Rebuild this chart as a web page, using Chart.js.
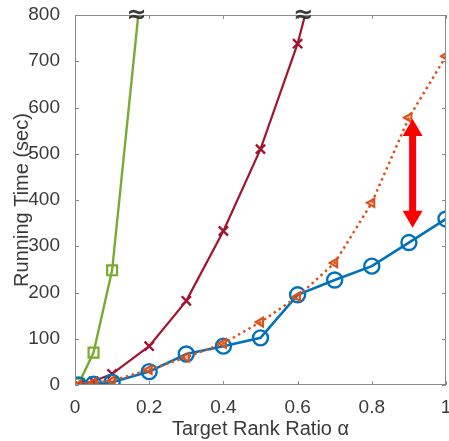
<!DOCTYPE html>
<html>
<head>
<meta charset="utf-8">
<title>Running Time vs Target Rank Ratio</title>
<script src="https://cdn.jsdelivr.net/npm/chart.js@4.4.1/dist/chart.umd.min.js"></script>
<style>
  html, body { margin: 0; padding: 0; background: #fff; }
  #wrap { width: 449px; height: 441px; }
</style>
</head>
<body>
<div id="wrap"><canvas id="myChart" width="449" height="441"></canvas></div>
<script>
// data
const alphas = [0.01, 0.05, 0.1, 0.2, 0.3, 0.4, 0.5, 0.6, 0.7, 0.8, 0.9, 1.0];
const blueTimes = [0, 2, 6, 29, 67, 84, 102, 195, 227, 257, 308, 359];
const orangeTimes = [0, 5, 9, 33, 60, 90, 136, 191, 264, 394, 578, 711];
const redAlphas = [0.01, 0.05, 0.1, 0.2, 0.3, 0.4, 0.5, 0.6, 0.7];
const redTimes = [0, 8, 24, 84, 182, 333, 510, 738, 1045];
const greenAlphas = [0.01, 0.05, 0.1, 0.2];
const greenTimes = [3, 70, 248, 1030];
const xTicks = [0, 0.2, 0.4, 0.6, 0.8, 1];
const yTicks = [0, 100, 200, 300, 400, 500, 600, 700, 800];
// red double arrow (alpha, from, to)
const arrowAlpha = 0.91;
const arrowFrom = 340;
const arrowTo = 575;

const pts = (xs, ys) => xs.map((x, i) => ({x: x, y: ys[i]}));

// box + inward ticks, break marks, arrow
const decor = {
  id: 'decor',
  afterDatasetsDraw(chart) {
    const ctx = chart.ctx;
    const a = chart.chartArea;
    const xs = chart.scales.x, ys = chart.scales.y;
    ctx.save();
    ctx.strokeStyle = '#8a8a8a';
    ctx.lineWidth = 1;
    ctx.strokeRect(a.left + 0.5, a.top + 0.5, a.right - a.left - 1, a.bottom - a.top - 1);
    ctx.beginPath();
    xTicks.forEach(v => {
      const px = Math.round(xs.getPixelForValue(v)) + 0.5;
      ctx.moveTo(px, a.bottom); ctx.lineTo(px, a.bottom - 4);
      ctx.moveTo(px, a.top); ctx.lineTo(px, a.top + 4);
    });
    yTicks.forEach(v => {
      const py = Math.round(ys.getPixelForValue(v)) + 0.5;
      ctx.moveTo(a.left, py); ctx.lineTo(a.left + 4, py);
      ctx.moveTo(a.right, py); ctx.lineTo(a.right - 4, py);
    });
    ctx.stroke();

    // break marks where a line leaves the top
    const top = ys.max;
    [[greenAlphas, greenTimes], [redAlphas, redTimes]].forEach(([xa, ya]) => {
      for (let i = 1; i < xa.length; i++) {
        if (ya[i - 1] <= top && ya[i] > top) {
          const t = (top - ya[i - 1]) / (ya[i] - ya[i - 1]);
          const xv = xa[i - 1] + t * (xa[i] - xa[i - 1]);
          ctx.fillStyle = '#3a3a3a';
          ctx.font = 'bold 24px "DejaVu Sans", sans-serif';
          ctx.textAlign = 'center';
          ctx.textBaseline = 'middle';
          ctx.fillText('\u2248', xs.getPixelForValue(xv) - 2, a.top + 1);
        }
      }
    });

    // red arrow
    const ax = xs.getPixelForValue(arrowAlpha);
    const y1 = ys.getPixelForValue(arrowTo);
    const y2 = ys.getPixelForValue(arrowFrom);
    const hw = 10, hh = 17;
    ctx.fillStyle = '#ff0000';
    ctx.fillRect(ax - 3.5, y1 + hh - 1, 7, (y2 - y1) - 2 * hh + 2);
    ctx.beginPath();
    ctx.moveTo(ax, y1); ctx.lineTo(ax - hw, y1 + hh); ctx.lineTo(ax + hw, y1 + hh); ctx.closePath();
    ctx.moveTo(ax, y2); ctx.lineTo(ax - hw, y2 - hh); ctx.lineTo(ax + hw, y2 - hh); ctx.closePath();
    ctx.fill();
    ctx.restore();
  }
};

const fontFam = '"Liberation Sans", Arial, Helvetica, sans-serif';

const config = {
  type: 'line',
  data: {
    datasets: [
      {
        data: pts(alphas, orangeTimes),
        borderColor: '#D95319', backgroundColor: 'rgba(217,83,25,0.35)',
        borderWidth: 2.5, borderDash: [2.5, 3.5],
        pointStyle: 'triangle', pointRotation: -90, pointRadius: 5,
        pointBorderWidth: 2, order: 0
      },
      {
        data: pts(alphas, blueTimes),
        borderColor: '#0072BD', backgroundColor: 'rgba(0,0,0,0)',
        borderWidth: 2.6, pointStyle: 'circle', pointRadius: 7.5,
        pointBorderWidth: 2.4, order: 1
      },
      {
        data: pts(redAlphas, redTimes),
        borderColor: '#A2142F', backgroundColor: 'rgba(0,0,0,0)',
        borderWidth: 2.2, pointStyle: 'crossRot', pointRadius: 6.5,
        pointBorderWidth: 2.4, order: 2
      },
      {
        data: pts(greenAlphas, greenTimes),
        borderColor: '#77AC30', backgroundColor: 'rgba(0,0,0,0)',
        borderWidth: 2.4, pointStyle: 'rect', pointRadius: 7,
        pointBorderWidth: 2.2, order: 3
      }
    ]
  },
  options: {
    responsive: false,
    animation: false,
    events: [],
    layout: { autoPadding: false, padding: { top: 15, right: 3, left: 0, bottom: 0 } },
    plugins: { legend: { display: false }, tooltip: { enabled: false } },
    elements: { line: { tension: 0 } },
    scales: {
      x: {
        type: 'linear', min: 0, max: 1,
        afterBuildTicks: s => { s.ticks = xTicks.map(v => ({value: v})); },
        afterFit: s => { s.height = 56; s.paddingLeft = 0; s.paddingRight = 0; },
        grid: { display: false },
        border: { display: false },
        ticks: { color: '#3a3a3a', font: { family: fontFam, size: 19 }, padding: 3, maxRotation: 0,
                 callback: v => String(v) },
        title: { display: true, text: 'Target Rank Ratio α', color: '#3a3a3a',
                 font: { family: fontFam, size: 20 }, padding: { top: 0, bottom: 0 } }
      },
      y: {
        type: 'linear', min: 0, max: 800,
        afterBuildTicks: s => { s.ticks = yTicks.map(v => ({value: v})); },
        afterFit: s => { s.width = 75; s.paddingTop = 0; s.paddingBottom = 0; },
        grid: { display: false },
        border: { display: false },
        ticks: { color: '#3a3a3a', font: { family: fontFam, size: 19 }, padding: 7 },
        title: { display: true, text: 'Running Time (sec)', color: '#3a3a3a',
                 font: { family: fontFam, size: 20 }, padding: { top: 10, bottom: 0 } }
      }
    }
  },
  plugins: [decor]
};

new Chart(document.getElementById('myChart'), config);
</script>
</body>
</html>
